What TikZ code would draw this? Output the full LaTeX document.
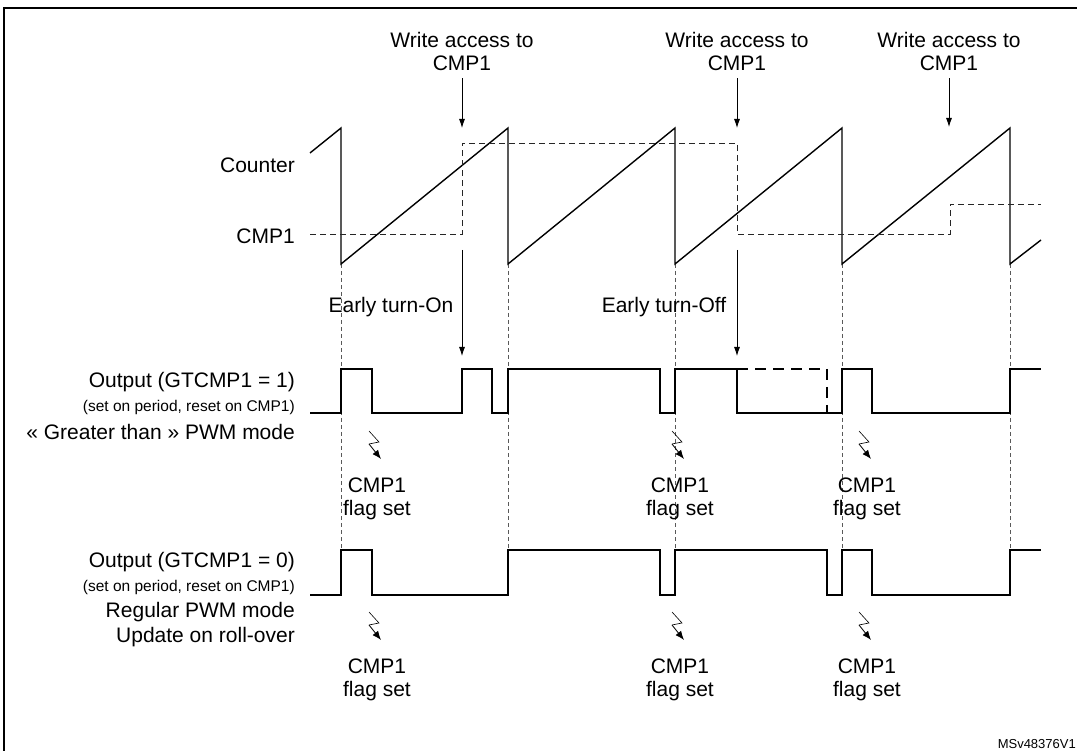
\documentclass[tikz,border=0pt]{standalone}
\usepackage{fontspec}
\setmainfont{Liberation Sans}
\usetikzlibrary{arrows.meta}
\begin{document}
\begin{tikzpicture}[x=1pt,y=-1pt,
  sig/.style={line width=1.4pt},
  guide/.style={dash pattern=on 4pt off 3pt,line width=0.7pt,gray!70!black},
  cmpl/.style={dash pattern=on 6pt off 4pt,line width=0.9pt,gray!30!black},
  lbl/.style={font=\fontsize{21}{23}\selectfont,align=center,inner sep=0pt},
  lft/.style={font=\fontsize{21}{23}\selectfont,anchor=east,inner sep=0pt},
  sml/.style={font=\fontsize{15.5}{18}\selectfont,anchor=east,inner sep=0pt},
  acc/.style={-{Latex[length=9pt,width=6pt]},line width=0.8pt},
  pics/flag/.style={code={
    \draw[line width=0.6pt] (-8,0) -- (2,11) -- (-8,13);
    \draw[-{Latex[length=9pt,width=7pt]},line width=0.8pt] (-8,13) -- (4,28);}}]
\useasboundingbox (0,0) rectangle (1077,751);
\draw[line width=1.5pt] (1090,8) -- (4,8) -- (4,760);
% guides
\foreach \x in {341,508,675,842,1010}{\draw[guide] (\x,264) -- (\x,595);}
% counter
\draw[sig] (310,153) -- (341,128) -- (341,264) -- (508,128) -- (508,264) -- (675,128) -- (675,264) -- (842,128) -- (842,264) -- (1010,128) -- (1010,264) -- (1041,240);
% cmp1
\draw[cmpl] (310,234) -- (462,234) -- (462,143) -- (737,143) -- (737,234) -- (950,234) -- (950,204) -- (1041,204);
% labels left
\node[lft] (lc) at (295,165) {Counter};
\node[lft] (lm) at (295,236) {CMP1};
\node[lft] (o1) at (295,382) {Output (GTCMP1 = 1)};
\node[sml] (s1) at (295,407) {(set on period, reset on CMP1)};
\node[lft] (g1) at (295,432) {« Greater than » PWM mode};
\node[lft] (o0) at (295,562) {Output (GTCMP1 = 0)};
\node[sml] (s0) at (295,587) {(set on period, reset on CMP1)};
\node[lft] (r0) at (295,612) {Regular PWM mode};
\node[lft] (u0) at (295,637) {Update on roll-over};
% write access
\node[lbl] (w1) at (462,51) {Write access to\\CMP1};
\node[lbl] (w2) at (737,51) {Write access to\\CMP1};
\node[lbl] (w3) at (949,51) {Write access to\\CMP1};
\coordinate (a1) at (462,128); \coordinate (a2) at (737,128); \coordinate (a3) at (949,127);
\draw[acc] (w1.south) ++(0,8) -- (a1);
\draw[acc] (w2.south) ++(0,8) -- (a2);
\draw[acc] (w3.south) ++(0,8) -- (a3);
\node[lbl] (e1) at (391,307) {Early turn-On};
\node[lbl] (e2) at (664,307) {Early turn-Off};
\draw[acc] (462,250) -- (462,356);
\draw[acc] (737,250) -- (737,356);
% output 1
\draw[sig] (310,413) -- (341,413) -- (341,369) -- (372,369) -- (372,413) -- (462,413) -- (462,369) -- (492,369) -- (492,413) -- (508,413) -- (508,369) -- (660,369) -- (660,413) -- (675,413) -- (675,369) -- (737,369) -- (737,413) -- (842,413) -- (842,369) -- (872,369) -- (872,413) -- (1010,413) -- (1010,369) -- (1041,369);
\draw[sig,dash pattern=on 11pt off 7pt] (737,369) -- (827,369) -- (827,413);
% output 0
\draw[sig] (310,595) -- (341,595) -- (341,550) -- (372,550) -- (372,595) -- (508,595) -- (508,550) -- (660,550) -- (660,595) -- (675,595) -- (675,550) -- (827,550) -- (827,595) -- (842,595) -- (842,550) -- (872,550) -- (872,595) -- (1010,595) -- (1010,550) -- (1041,550);
% flags
\foreach \x in {377,680,867}{
  \pic at (\x,431) {flag};
  \pic at (\x,612) {flag};}
\node[lbl] (f1) at (377,499) {CMP1\\flag set};
\node[lbl] (f2) at (680,499) {CMP1\\flag set};
\node[lbl] (f3) at (867,499) {CMP1\\flag set};
\node[lbl] (f4) at (377,680) {CMP1\\flag set};
\node[lbl] (f5) at (680,680) {CMP1\\flag set};
\node[lbl] (f6) at (867,680) {CMP1\\flag set};
\node[font=\fontsize{13}{15}\selectfont,anchor=east,inner sep=0pt] (ms) at (1076,744) {MSv48376V1};
\end{tikzpicture}
\end{document}
